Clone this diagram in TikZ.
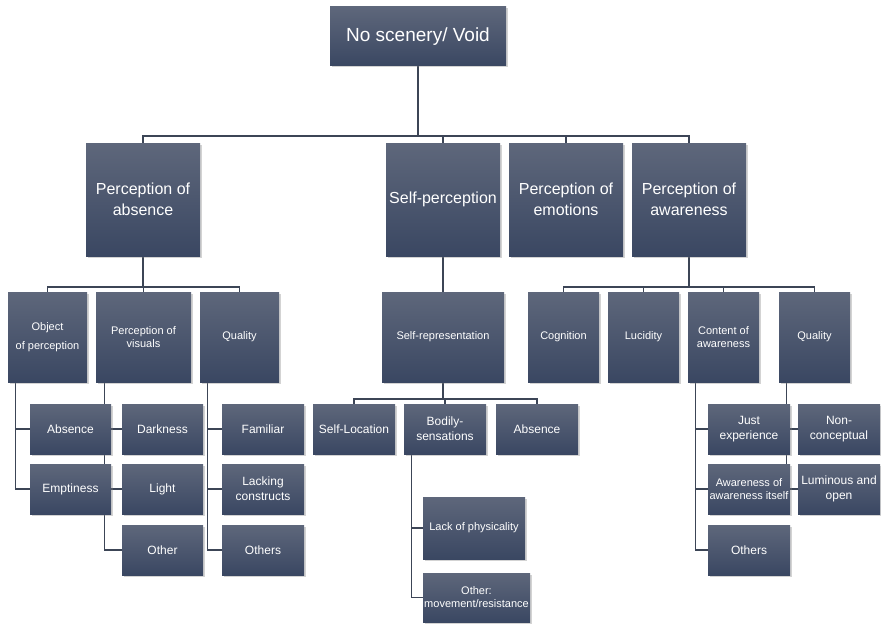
\documentclass[tikz,border=0pt]{standalone}
\usepackage{fontspec}
\setmainfont{Liberation Sans}
\usetikzlibrary{shadows,backgrounds}
\definecolor{boxtop}{HTML}{5E677B}
\definecolor{boxbot}{HTML}{3A4762}
\definecolor{linec}{HTML}{3C4556}
\tikzset{
  box/.style={rectangle, top color=boxtop, bottom color=boxbot, draw=none,
    text=white, align=center, inner sep=1pt,
    drop shadow={opacity=0.35, shadow xshift=1.5pt, shadow yshift=-1.5pt}},
  bw/.style 2 args={minimum width=#1pt, minimum height=#2pt},
  conn/.style={draw=linec, line width=1.3pt},
  fa/.style={font=\fontsize{19}{23}\selectfont},
  fb/.style={font=\fontsize{16}{21}\selectfont},
  fc/.style={font=\fontsize{11}{13}\selectfont},
  fd/.style={font=\fontsize{12}{15}\selectfont},
}
\begin{document}
\begin{tikzpicture}[x=1pt,y=-1pt]
\useasboundingbox (0,0) rectangle (881,626);
% root
\node[box,fa,bw={176}{59}] (root) at (418,36.5) {No scenery/ Void};
% level 1
\node[box,fb,bw={114}{113}] (pabs) at (143,199.5) {Perception of\\absence};
\node[box,fb,bw={114}{113}] (self) at (443,199.5) {Self-perception};
\node[box,fb,bw={114}{113}] (emo) at (566,199.5) {Perception of\\emotions};
\node[box,fb,bw={114}{113}] (aw) at (689,199.5) {Perception of\\awareness};
% level 2
\node[box,fc,bw={79}{90}] (obj) at (47.5,337) {Object\\[6pt]of perception};
\node[box,fc,bw={95}{90}] (vis) at (143.5,337) {Perception of\\visuals};
\node[box,fc,bw={79}{90}] (qualA) at (239.5,337) {Quality};
\node[box,fc,bw={122}{90}] (selfrep) at (443,337) {Self-representation};
\node[box,fc,bw={71}{90}] (cog) at (563.5,337) {Cognition};
\node[box,fc,bw={71}{90}] (luc) at (643.5,337) {Lucidity};
\node[box,fc,bw={71}{90}] (cont) at (723.5,337) {Content of\\awareness};
\node[box,fc,bw={71}{90}] (qualB) at (814.5,337) {Quality};
% level 3 left
\node[box,fd,bw={81}{50}] (absn) at (70.5,429) {Absence};
\node[box,fd,bw={81}{50}] (empt) at (70.5,489) {Emptiness};
\node[box,fd,bw={81}{50}] (dark) at (162.5,429) {Darkness};
\node[box,fd,bw={81}{50}] (light) at (162.5,489) {Light};
\node[box,fd,bw={81}{50}] (other) at (162.5,550) {Other};
\node[box,fd,bw={82}{50}] (fam) at (263,429) {Familiar};
\node[box,fd,bw={82}{50}] (lack) at (263,489) {Lacking\\constructs};
\node[box,fd,bw={82}{50}] (othersA) at (263,550) {Others};
% level 3 middle
\node[box,fd,bw={82}{50}] (selfloc) at (354,429) {Self-Location};
\node[box,fd,bw={82}{50}] (bodily) at (445,429) {Bodily-\\sensations};
\node[box,fd,bw={82}{50}] (absnB) at (537,429) {Absence};
\node[box,fc,bw={102}{62}] (lackp) at (474,528) {Lack of physicality};
\node[box,fc,bw={107}{49}] (othmov) at (476.5,597.5) {Other:\\movement/resistance};
% level 3 right
\node[box,fd,bw={82}{50}] (just) at (749,429) {Just\\experience};
\node[box,fc,bw={82}{50}] (awaw) at (749,489) {Awareness of\\awareness itself};
\node[box,fd,bw={82}{50}] (othersB) at (749,550) {Others};
\node[box,fd,bw={82}{50}] (noncon) at (839,429) {Non-\\conceptual};
\node[box,fd,bw={82}{50}] (lum) at (839,489) {Luminous and\\open};
% connectors
\begin{scope}[on background layer]
\coordinate (b1) at (418,136);
\coordinate (b2) at (143,287);
\coordinate (b3) at (689,287);
\coordinate (b4) at (443,399);
\draw[conn] (root.south) -- (b1);
\foreach \n in {pabs,self,emo,aw} \draw[conn] (\n.north) |- (b1);
\draw[conn] (pabs.south) -- (b2);
\foreach \n in {obj,vis,qualA} \draw[conn] (\n.north) |- (b2);
\draw[conn] (self.south) -- (selfrep.north);
\draw[conn] (aw.south) -- (b3);
\foreach \n in {cog,luc,cont,qualB} \draw[conn] (\n.north) |- (b3);
\draw[conn] (selfrep.south) -- (b4);
\foreach \n in {selfloc,bodily,absnB} \draw[conn] (\n.north) |- (b4);
\foreach \n in {absn,empt} \draw[conn] ([xshift=8pt]obj.south west) |- (\n.west);
\foreach \n in {dark,light,other} \draw[conn] ([xshift=9pt]vis.south west) |- (\n.west);
\foreach \n in {fam,lack,othersA} \draw[conn] ([xshift=8pt]qualA.south west) |- (\n.west);
\foreach \n in {lackp,othmov} \draw[conn] ([xshift=8pt]bodily.south west) |- (\n.west);
\foreach \n in {just,awaw,othersB} \draw[conn] ([xshift=8pt]cont.south west) |- (\n.west);
\foreach \n in {noncon,lum} \draw[conn] ([xshift=8pt]qualB.south west) |- (\n.west);
\end{scope}
\end{tikzpicture}
\end{document}
